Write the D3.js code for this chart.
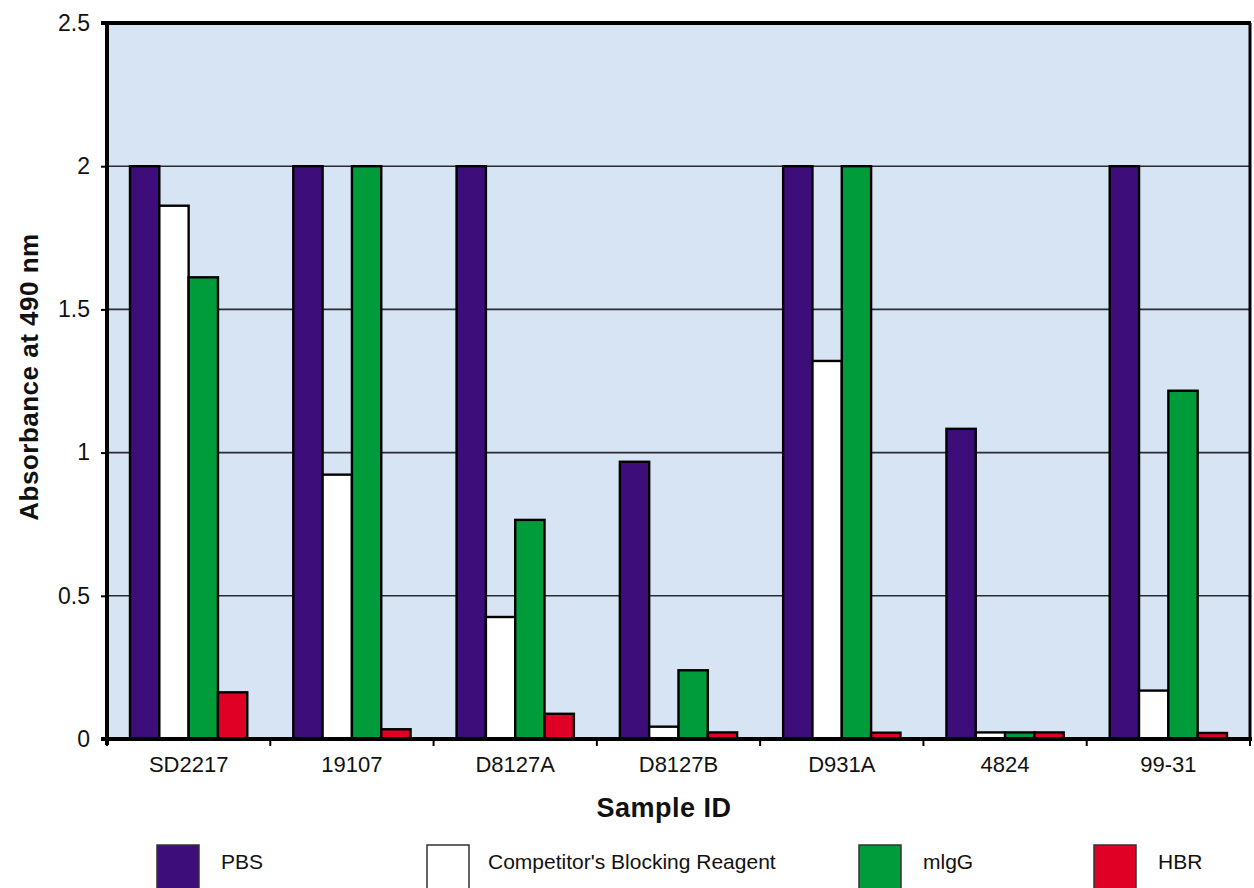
<!DOCTYPE html>
<html>
<head>
<meta charset="utf-8">
<script src="https://cdn.jsdelivr.net/npm/d3@7"></script>
<style>
  html, body { margin: 0; padding: 0; background: #ffffff; }
  svg { display: block; }
  text { font-family: "Liberation Sans", Arial, sans-serif; fill: #111; }
</style>
</head>
<body>
<svg id="chart" width="1254" height="888"></svg>
<script>
const categories = ["SD2217", "19107", "D8127A", "D8127B", "D931A", "4824", "99-31"];
const seriesNames = ["PBS", "Competitor's Blocking Reagent", "mlgG", "HBR"];
const pbs  = [2.0, 2.0, 2.0, 0.968, 2.0, 1.083, 2.0];
const cbr  = [1.862, 0.923, 0.426, 0.043, 1.32, 0.023, 0.169];
const migg = [1.612, 2.0, 0.765, 0.24, 2.0, 0.023, 1.216];
const hbr  = [0.163, 0.034, 0.088, 0.023, 0.022, 0.023, 0.021];
const yTicks = [0, 0.5, 1, 1.5, 2, 2.5];
const yTickLabels = ["0", "0.5", "1", "1.5", "2", "2.5"];
const colors = ["#3d0e7a", "#ffffff", "#009b3a", "#e10025"];

const series = [pbs, cbr, migg, hbr];
const svg = d3.select("#chart");

const pLeft = 107, pRight = 1250, pTop = 23, pBottom = 739;

const x0 = d3.scaleBand().domain(categories).range([pLeft, pRight]).padding(0);
const x1 = d3.scaleBand().domain(seriesNames).range([23, x0.bandwidth() - 23]).padding(0);
const y = d3.scaleLinear().domain([0, 2.5]).range([pBottom, pTop]);

// plot background
svg.append("rect").attr("x", pLeft).attr("y", pTop)
  .attr("width", pRight - pLeft).attr("height", pBottom - pTop)
  .attr("fill", "#d7e4f4");

// gridlines
svg.append("g").selectAll("line").data(yTicks.filter(v => v > 0 && v < 2.5)).join("line")
  .attr("x1", pLeft).attr("x2", pRight)
  .attr("y1", d => y(d)).attr("y2", d => y(d))
  .attr("stroke", "#2b2b33").attr("stroke-width", 1.6);

// bars
const data = [];
categories.forEach((c, i) => {
  seriesNames.forEach((s, j) => data.push({ cat: c, ser: s, j: j, v: series[j][i] }));
});
svg.append("g").selectAll("rect").data(data).join("rect")
  .attr("x", d => x0(d.cat) + x1(d.ser))
  .attr("y", d => y(d.v))
  .attr("width", x1.bandwidth())
  .attr("height", d => y(0) - y(d.v))
  .attr("fill", d => colors[d.j])
  .attr("stroke", "#000")
  .attr("stroke-width", 2.4);

// top and right border
svg.append("line").attr("x1", 101).attr("x2", pRight + 1).attr("y1", pTop).attr("y2", pTop)
  .attr("stroke", "#000").attr("stroke-width", 4);
svg.append("line").attr("x1", pRight).attr("x2", pRight).attr("y1", pTop).attr("y2", pBottom)
  .attr("stroke", "#000").attr("stroke-width", 3);

// y axis
const yAxis = d3.axisLeft(y).tickValues(yTicks)
  .tickFormat((d, i) => yTickLabels[i]).tickSize(6).tickPadding(11);
const gy = svg.append("g").attr("transform", `translate(${pLeft},0)`).call(yAxis);
gy.select(".domain").remove();
gy.selectAll(".tick line").attr("stroke", "#000").attr("stroke-width", 2);
gy.selectAll(".tick text").attr("font-size", 23).attr("fill", "#111")
  .attr("font-family", "Liberation Sans, Arial, sans-serif");
svg.append("line").attr("x1", pLeft).attr("x2", pLeft).attr("y1", pTop - 2).attr("y2", pBottom + 6)
  .attr("stroke", "#000").attr("stroke-width", 4);

// x axis
const xAxis = d3.axisBottom(x0).tickSize(0).tickPadding(17);
const gx = svg.append("g").attr("transform", `translate(0,${pBottom})`).call(xAxis);
gx.select(".domain").remove();
gx.selectAll(".tick text").attr("font-size", 22).attr("fill", "#111")
  .attr("font-family", "Liberation Sans, Arial, sans-serif");
svg.append("g").selectAll("line").data(categories.map(c => x0(c)).concat([pRight])).join("line")
  .attr("x1", d => d).attr("x2", d => d).attr("y1", pBottom).attr("y2", pBottom + 7)
  .attr("stroke", "#000").attr("stroke-width", 2);
svg.append("line").attr("x1", pLeft - 6).attr("x2", pRight + 2).attr("y1", pBottom).attr("y2", pBottom)
  .attr("stroke", "#000").attr("stroke-width", 4);

// axis titles
svg.append("text").attr("x", 664).attr("y", 817)
  .attr("text-anchor", "middle").attr("font-size", 27).attr("font-weight", "bold")
  .attr("letter-spacing", 0.5).text("Sample ID");
svg.append("text").attr("transform", `translate(38,${(pTop + pBottom) / 2 - 4}) rotate(-90)`)
  .attr("text-anchor", "middle").attr("font-size", 26).attr("font-weight", "bold")
  .attr("letter-spacing", 0.5).text("Absorbance at 490 nm");

// legend
const legendX = [157, 427, 859, 1094];
const lg = svg.append("g").selectAll("g").data(seriesNames).join("g")
  .attr("transform", (d, i) => `translate(${legendX[i]},845)`);
lg.append("rect").attr("width", 42).attr("height", 44)
  .attr("fill", (d, i) => colors[i]).attr("stroke", "#333").attr("stroke-width", 1.5);
lg.append("text").attr("x", (d, i) => i === 1 ? 61 : 64).attr("y", 18)
  .attr("dominant-baseline", "middle").attr("font-size", 21).text(d => d);
</script>
</body>
</html>
